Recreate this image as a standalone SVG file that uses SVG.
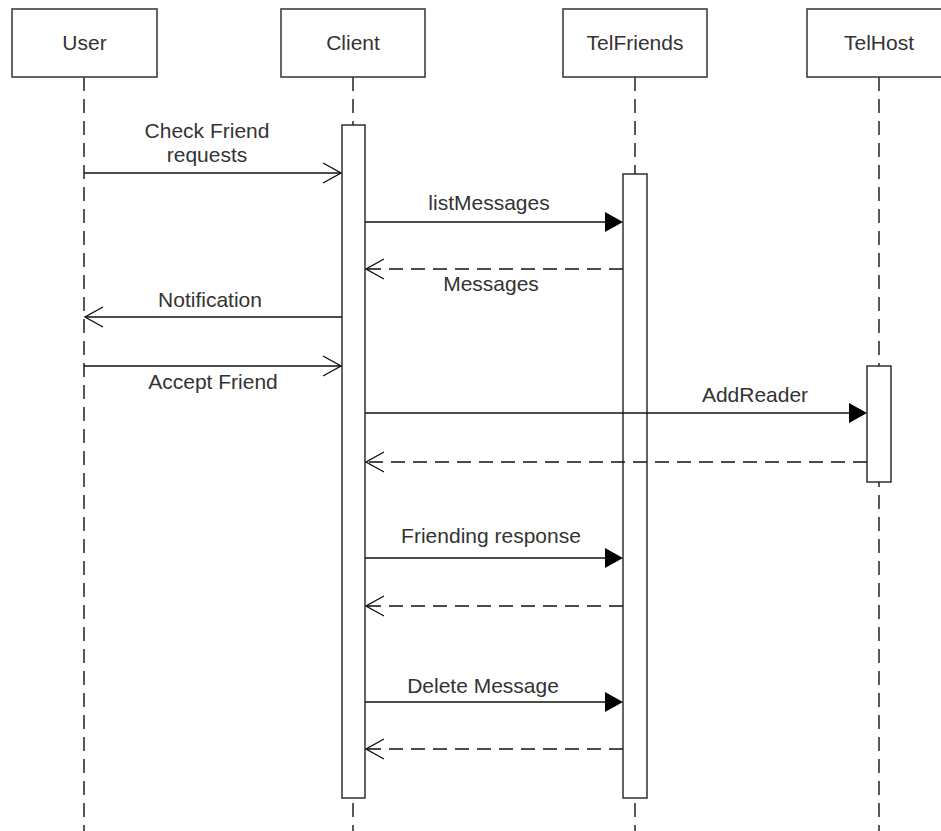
<svg xmlns="http://www.w3.org/2000/svg" width="941" height="831" viewBox="0 0 941 831">
<style>
.box{fill:#fff;stroke:#404040;stroke-width:1.6}
.life{stroke:#222;stroke-width:1.5;stroke-dasharray:14 8;fill:none}
.bar{fill:#fff;stroke:#222;stroke-width:1.4}
.msg{stroke:#111;stroke-width:1.4;fill:none}
.ret{stroke:#111;stroke-width:1.4;fill:none;stroke-dasharray:14 8}
.open{stroke:#111;stroke-width:1.4;fill:none}
.fill{fill:#000}
text{font-family:"Liberation Sans",Arial,sans-serif;font-size:21px;fill:#333;text-anchor:middle}
</style>
<rect width="941" height="831" fill="#fff"/>
<g id="lifelines">
<line class="life" x1="84" y1="77" x2="84" y2="831"/>
<line class="life" x1="353" y1="77" x2="353" y2="831"/>
<line class="life" x1="635" y1="77" x2="635" y2="831"/>
<line class="life" x1="879" y1="77" x2="879" y2="831"/>
</g>
<g id="User"><rect class="box" x="12" y="9" width="145" height="68"/><text x="84.5" y="50">User</text></g>
<g id="Client"><rect class="box" x="281" y="9" width="144" height="68"/><text x="353" y="50">Client</text></g>
<g id="TelFriends"><rect class="box" x="563" y="9" width="144" height="68"/><text x="635" y="50">TelFriends</text></g>
<g id="TelHost"><rect class="box" x="807" y="9" width="145" height="68"/><text x="879" y="50">TelHost</text></g>
<g id="activations">
<rect class="bar" x="342" y="125" width="23" height="673"/>
<rect class="bar" x="623" y="174" width="24" height="624"/>
<rect class="bar" x="867" y="366" width="24" height="116"/>
</g>
<g id="connectors">
<line class="msg" x1="84" y1="173" x2="341" y2="173"/>
<polyline class="open" points="323,163 341,173 323,183"/>
<text x="207" y="138">Check Friend</text>
<text x="207" y="162">requests</text>

<line class="msg" x1="365" y1="222" x2="606" y2="222"/>
<polygon class="fill" points="623,222 605,212 605,232"/>
<text x="489" y="210">listMessages</text>

<line class="ret" x1="623" y1="269" x2="366" y2="269"/>
<polyline class="open" points="384,259 366,269 384,279"/>
<text x="491" y="291">Messages</text>

<line class="msg" x1="342" y1="317" x2="85" y2="317"/>
<polyline class="open" points="103,307 85,317 103,327"/>
<text x="210" y="307">Notification</text>

<line class="msg" x1="84" y1="366" x2="341" y2="366"/>
<polyline class="open" points="323,356 341,366 323,376"/>
<text x="213" y="389">Accept Friend</text>

<line class="msg" x1="365" y1="413" x2="850" y2="413"/>
<polygon class="fill" points="867,413 849,403 849,423"/>
<text x="755" y="402">AddReader</text>

<line class="ret" x1="867" y1="462" x2="366" y2="462"/>
<polyline class="open" points="384,452 366,462 384,472"/>

<line class="msg" x1="365" y1="558" x2="606" y2="558"/>
<polygon class="fill" points="623,558 605,548 605,568"/>
<text x="491" y="543">Friending response</text>

<line class="ret" x1="623" y1="606" x2="366" y2="606"/>
<polyline class="open" points="384,596 366,606 384,616"/>

<line class="msg" x1="365" y1="702" x2="606" y2="702"/>
<polygon class="fill" points="623,702 605,692 605,712"/>
<text x="483" y="693">Delete Message</text>

<line class="ret" x1="623" y1="749" x2="366" y2="749"/>
<polyline class="open" points="384,739 366,749 384,759"/>
</g>
</svg>
